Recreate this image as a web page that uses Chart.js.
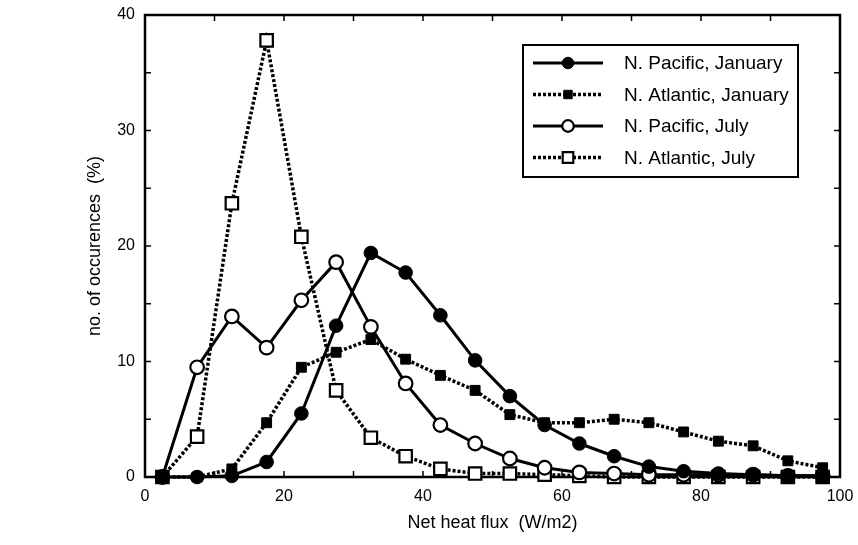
<!DOCTYPE html>
<html>
<head>
<meta charset="utf-8">
<script src="https://cdn.jsdelivr.net/npm/chart.js@4/dist/chart.umd.min.js"></script>
<style>
  html, body { margin: 0; padding: 0; background: #fff; }
  #wrap { width: 858px; height: 545px; }
</style>
</head>
<body>
<div id="wrap"><canvas id="flux-chart"></canvas></div>
<script>
// bin centres of net heat flux (W/m2)
const fluxBins = [2.5, 7.5, 12.5, 17.5, 22.5, 27.5, 32.5, 37.5, 42.5, 47.5,
                  52.5, 57.5, 62.5, 67.5, 72.5, 77.5, 82.5, 87.5, 92.5, 97.5];

// no. of occurences (%)
const pacificJan  = [0, 0, 0.1, 1.3, 5.5, 13.1, 19.4, 17.7, 14.0, 10.1,
                     7.0, 4.5, 2.9, 1.8, 0.9, 0.5, 0.3, 0.2, 0.1, 0.1];
const atlanticJan = [0, 0, 0.7, 4.7, 9.5, 10.8, 11.9, 10.2, 8.8, 7.5,
                     5.4, 4.7, 4.7, 5.0, 4.7, 3.9, 3.1, 2.7, 1.4, 0.8];
const pacificJul  = [0, 9.5, 13.9, 11.2, 15.3, 18.6, 13.0, 8.1, 4.5, 2.9,
                     1.6, 0.8, 0.4, 0.3, 0.2, 0.2, 0.2, 0.2, 0.1, 0.1];
const atlanticJul = [0, 3.5, 23.7, 37.8, 20.8, 7.5, 3.4, 1.8, 0.7, 0.3,
                     0.3, 0.2, 0.1, 0, 0, 0, 0, 0, 0, 0];

const seriesNames = ['N. Pacific, January', 'N. Atlantic, January', 'N. Pacific, July', 'N. Atlantic, July'];

const xTickStep = 20;
const yTickStep = 10;
const xMinorTicks = [10, 20, 30, 40, 50, 60, 70, 80, 90];
const yMinorTicks = [5, 10, 15, 20, 25, 30, 35];

const FONT = 'Liberation Sans, Arial, sans-serif';

function toPoints(values) {
  return values.map((v, i) => ({ x: fluxBins[i], y: v }));
}

const solidLine = { borderWidth: 3, borderDash: [] };
const dottedLine = { borderWidth: 3.5, borderDash: [3, 2] };

const datasets = [
  { label: seriesNames[0], data: toPoints(pacificJan), ...solidLine,
    pointStyle: 'circle', pointRadius: 6.8, pointBackgroundColor: '#000', pointBorderWidth: 1 },
  { label: seriesNames[1], data: toPoints(atlanticJan), ...dottedLine,
    pointStyle: 'rect', pointRadius: 7, pointBackgroundColor: '#000', pointBorderWidth: 1 },
  { label: seriesNames[2], data: toPoints(pacificJul), ...solidLine,
    pointStyle: 'circle', pointRadius: 6.8, pointBackgroundColor: '#fff', pointBorderWidth: 2.2 },
  { label: seriesNames[3], data: toPoints(atlanticJul), ...dottedLine,
    pointStyle: 'rect', pointRadius: 8.8, pointBackgroundColor: '#fff', pointBorderWidth: 2.2 }
].map(ds => ({
  ...ds,
  borderColor: '#000',
  pointBorderColor: '#000',
  pointHoverRadius: ds.pointRadius,
  tension: 0,
  clip: false
}));

// box + inward tick marks on all four sides
const framePlugin = {
  id: 'frame',
  beforeDatasetsDraw(chart) {
    const { ctx, chartArea: a, scales: { x, y } } = chart;
    const len = 6;
    ctx.save();
    ctx.strokeStyle = '#000';
    ctx.lineWidth = 2.5;
    ctx.strokeRect(a.left, a.top, a.right - a.left, a.bottom - a.top);
    ctx.lineWidth = 1.5;
    ctx.beginPath();
    xMinorTicks.forEach(v => {
      const px = x.getPixelForValue(v);
      ctx.moveTo(px, a.bottom); ctx.lineTo(px, a.bottom - len);
      ctx.moveTo(px, a.top); ctx.lineTo(px, a.top + len);
    });
    yMinorTicks.forEach(v => {
      const py = y.getPixelForValue(v);
      ctx.moveTo(a.left, py); ctx.lineTo(a.left + len, py);
      ctx.moveTo(a.right, py); ctx.lineTo(a.right - len, py);
    });
    ctx.stroke();
    ctx.restore();
  }
};

// boxed legend with line + marker samples
const legendPlugin = {
  id: 'boxLegend',
  afterDraw(chart) {
    const { ctx, chartArea: a } = chart;
    const left = a.right - 317, top = a.top + 30, w = 275, h = 132;
    ctx.save();
    ctx.fillStyle = '#fff';
    ctx.fillRect(left, top, w, h);
    ctx.strokeStyle = '#000';
    ctx.lineWidth = 2;
    ctx.strokeRect(left, top, w, h);
    chart.data.datasets.forEach((ds, i) => {
      const cy = top + 18 + i * 31.5;
      ctx.strokeStyle = '#000';
      ctx.lineWidth = ds.borderWidth;
      ctx.setLineDash(ds.borderDash);
      ctx.beginPath();
      ctx.moveTo(left + 10, cy);
      ctx.lineTo(left + 80, cy);
      ctx.stroke();
      ctx.setLineDash([]);
      ctx.fillStyle = ds.pointBackgroundColor;
      ctx.lineWidth = ds.pointBorderWidth;
      Chart.helpers.drawPoint(ctx, {
        pointStyle: ds.pointStyle,
        radius: ds.pointRadius * 0.85,
        borderWidth: ds.pointBorderWidth,
        rotation: 0
      }, left + 45, cy);
      ctx.fillStyle = '#000';
      ctx.font = '19px ' + FONT;
      ctx.textBaseline = 'middle';
      ctx.fillText(ds.label, left + 101, cy + 1);
    });
    ctx.restore();
  }
};

const ctx = document.getElementById('flux-chart').getContext('2d');

new Chart(ctx, {
  type: 'line',
  data: { datasets },
  options: {
    responsive: true,
    maintainAspectRatio: false,
    animation: false,
    layout: { padding: { top: 15, right: 18, left: 0, bottom: 0 } },
    plugins: {
      legend: { display: false },
      tooltip: { enabled: false }
    },
    scales: {
      x: {
        type: 'linear',
        min: 0,
        max: 100,
        grid: { display: false, drawTicks: false },
        border: { display: false },
        ticks: { stepSize: xTickStep, color: '#000', padding: 10, font: { family: FONT, size: 16 } },
        title: {
          display: true,
          text: 'Net heat flux  (W/m2)',
          color: '#000',
          font: { family: FONT, size: 18 },
          padding: { top: 0, bottom: 11 }
        },
        afterFit(scale) {
          scale.height = 68;
          scale.paddingLeft = 0;
          scale.paddingRight = 0;
        }
      },
      y: {
        min: 0,
        max: 40,
        grid: { display: false, drawTicks: false },
        border: { display: false },
        ticks: { stepSize: yTickStep, color: '#000', padding: 10, font: { family: FONT, size: 16 } },
        title: {
          display: true,
          text: 'no. of occurences  (%)',
          color: '#000',
          font: { family: FONT, size: 18 },
          padding: { top: 84, bottom: 0 }
        },
        afterFit(scale) {
          scale.width = 145;
          scale.paddingTop = 0;
          scale.paddingBottom = 0;
        }
      }
    }
  },
  plugins: [framePlugin, legendPlugin]
});
</script>
</body>
</html>
